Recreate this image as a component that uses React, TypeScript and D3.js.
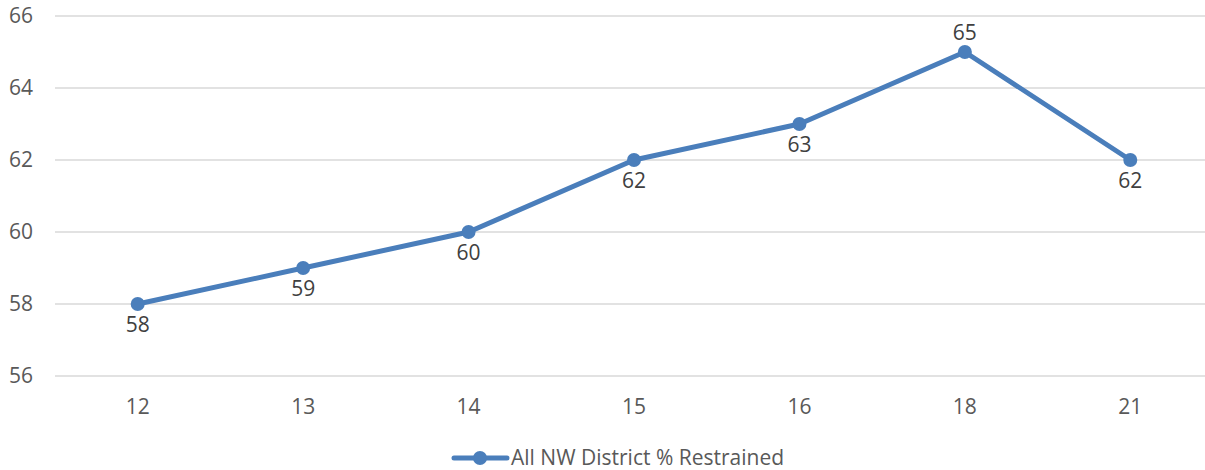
import React, { useEffect, useRef } from "react";
import * as d3 from "d3";

const categories = ["12", "13", "14", "15", "16", "18", "21"];
const values = [58, 59, 60, 62, 63, 65, 62];
const labelAbove = [false, false, false, false, false, true, false];
const yTicks = [56, 58, 60, 62, 64, 66];
const seriesName = "All NW District % Restrained";

const App: React.FC = () => {
  const svgRef = useRef<SVGSVGElement>(null);

  useEffect(() => {
    const width = 1205;
    const height = 470;
    const font = "'Open Sans', 'Liberation Sans', sans-serif";
    const textColor = "#595959";
    const blue = "#4a7ebb";

    const svg = d3.select(svgRef.current);
    svg.selectAll("*").remove();

    const x = d3.scaleBand<string>().domain(categories).range([55, 1213]);
    const y = d3.scaleLinear().domain([56, 66]).range([376, 16]);
    const cx = (c: string) => (x(c) ?? 0) + x.bandwidth() / 2;

    // gridlines
    svg.append("g")
      .selectAll("line")
      .data(yTicks)
      .join("line")
      .attr("x1", 55)
      .attr("x2", width)
      .attr("y1", d => y(d))
      .attr("y2", d => y(d))
      .attr("stroke", "#d9d9d9")
      .attr("stroke-width", 1.5);

    // y tick labels
    svg.append("g")
      .selectAll("text")
      .data(yTicks)
      .join("text")
      .attr("x", 33)
      .attr("y", d => y(d))
      .attr("dy", "0.35em")
      .attr("text-anchor", "end")
      .attr("font-family", font)
      .attr("font-size", 21)
      .attr("fill", textColor)
      .text(d => d);

    // x tick labels
    svg.append("g")
      .selectAll("text")
      .data(categories)
      .join("text")
      .attr("x", d => cx(d))
      .attr("y", 407)
      .attr("dy", "0.35em")
      .attr("text-anchor", "middle")
      .attr("font-family", font)
      .attr("font-size", 21)
      .attr("fill", textColor)
      .text(d => d);

    const line = d3.line<number>()
      .x((_, i) => cx(categories[i]))
      .y(d => y(d));

    svg.append("path")
      .datum(values)
      .attr("d", line)
      .attr("fill", "none")
      .attr("stroke", blue)
      .attr("stroke-width", 5)
      .attr("stroke-linejoin", "round");

    svg.append("g")
      .selectAll("circle")
      .data(values)
      .join("circle")
      .attr("cx", (_, i) => cx(categories[i]))
      .attr("cy", d => y(d))
      .attr("r", 7)
      .attr("fill", blue);

    // data labels
    svg.append("g")
      .selectAll("text")
      .data(values)
      .join("text")
      .attr("x", (_, i) => cx(categories[i]))
      .attr("y", (d, i) => y(d) + (labelAbove[i] ? -19 : 21))
      .attr("dy", "0.35em")
      .attr("text-anchor", "middle")
      .attr("font-family", font)
      .attr("font-size", 21)
      .attr("fill", "#404040")
      .text(d => d);

    // legend
    const lg = svg.append("g").attr("transform", "translate(0, 458)");
    lg.append("line")
      .attr("x1", 454)
      .attr("x2", 507)
      .attr("y1", 0)
      .attr("y2", 0)
      .attr("stroke", blue)
      .attr("stroke-width", 5)
      .attr("stroke-linecap", "round");
    lg.append("circle").attr("cx", 480).attr("cy", 0).attr("r", 7).attr("fill", blue);
    lg.append("text")
      .attr("x", 511)
      .attr("y", 0)
      .attr("dy", "0.35em")
      .attr("font-family", font)
      .attr("font-size", 21)
      .attr("fill", textColor)
      .text(seriesName);

    svg.attr("width", width).attr("height", height);
  }, []);

  return (
    <svg
      ref={svgRef}
      width={1205}
      height={470}
      style={{ position: "absolute", left: 0, top: 0, background: "#fff" }}
    ></svg>
  );
};

export default App;
